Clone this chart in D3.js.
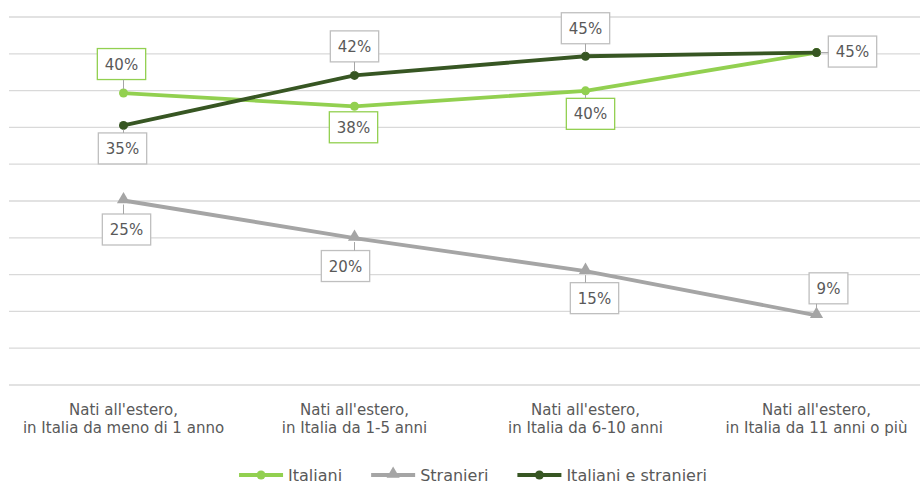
<!DOCTYPE html>
<html>
<head>
<meta charset="utf-8">
<script src="https://d3js.org/d3.v7.min.js"></script>
<style>
  body { margin: 0; background: #fff; }
  text { font-family: "DejaVu Sans", sans-serif; fill: #595959; }
</style>
</head>
<body>
<div id="viz"></div>
<script>
// data (percent)
const categories = [
  ["Nati all'estero,", "in Italia da meno di 1 anno"],
  ["Nati all'estero,", "in Italia da 1-5 anni"],
  ["Nati all'estero,", "in Italia da 6-10 anni"],
  ["Nati all'estero,", "in Italia da 11 anni o più"]
];
const seriesNames = ["Italiani", "Stranieri", "Italiani e stranieri"];
const italiani = [39.6, 37.8, 39.9, 45.1];
const stranieri = [25.0, 19.9, 15.4, 9.4];
const totale = [35.2, 42.0, 44.6, 45.1];
const yTicks = [0, 5, 10, 15, 20, 25, 30, 35, 40, 45, 50];

let width = 920,
    height = 486;

let svg = d3.select('#viz').append('svg')
    .attr('width', width)
    .attr('height', height);

let x = d3.scaleBand()
    .domain(d3.range(categories.length))
    .range([8, 932]);

let y = d3.scaleLinear()
    .domain([0, 50])
    .range([384.5, 16.5]);

let cx = i => x(i) + x.bandwidth() / 2;

// gridlines
let grid = svg.append('g')
    .attr('transform', 'translate(9,0)')
    .call(d3.axisLeft(y).tickValues(yTicks).tickSize(-911).tickFormat(''));
grid.select('.domain').remove();
grid.selectAll('.tick line').attr('stroke', '#d9d9d9').attr('stroke-width', 1.3);

// category labels
let cat = svg.append('g').selectAll('text')
    .data(categories)
    .enter().append('text')
    .attr('text-anchor', 'middle')
    .attr('font-size', 15);
cat.each(function(d, i) {
  d3.select(this).selectAll('tspan')
    .data(d).enter().append('tspan')
    .attr('x', cx(i))
    .attr('y', (t, j) => 415 + j * 18)
    .text(t => t);
});

// series setup; label offsets are layout only (dx, dy of box centre from point)
let series = [
  { name: seriesNames[0], values: italiani, color: '#92d050', border: '#92d050', marker: 'circle',
    offsets: [[-2, -29], [-1, 21], [5, 23], null] },
  { name: seriesNames[1], values: stranieri, color: '#a5a5a5', border: '#bfbfbf', marker: 'triangle',
    offsets: [[3, 29], [-9, 28], [9, 27], [12, -27]] },
  { name: seriesNames[2], values: totale, color: '#375623', border: '#bfbfbf', marker: 'circle',
    offsets: [[-1, 23], [0, -29], [0, -28], [36, -1]] }
];

let line = d3.line()
    .x((d, i) => cx(i))
    .y(d => y(d));

let triangle = d3.symbol().type(d3.symbolTriangle).size(75);

function drawMarker(g, s, px, py) {
  if (s.marker === 'circle') {
    g.append('circle').attr('cx', px).attr('cy', py).attr('r', 4.5).attr('fill', s.color);
  } else {
    g.append('path').attr('d', triangle).attr('transform', `translate(${px},${py - 1})`).attr('fill', s.color);
  }
}

let lines = svg.append('g');
series.forEach(s => {
  lines.append('path')
    .datum(s.values)
    .attr('d', line)
    .attr('fill', 'none')
    .attr('stroke', s.color)
    .attr('stroke-width', 3.8)
    .attr('stroke-linejoin', 'round');
  s.values.forEach((v, i) => drawMarker(lines, s, cx(i), y(v)));
});

// data labels
let labels = svg.append('g');
series.forEach(s => {
  s.values.forEach((v, i) => {
    let off = s.offsets[i];
    if (!off) return;
    let txt = Math.round(v) + '%';
    let px = cx(i), py = y(v);
    let bx = px + off[0], by = py + off[1];
    let t = labels.append('text')
      .attr('x', bx).attr('y', by + 5.5)
      .attr('text-anchor', 'middle')
      .attr('font-size', 15)
      .text(txt);
    let w = t.node().getComputedTextLength() + 15, h = 31;
    // leader line from box edge to the point
    let ex = Math.max(bx - w / 2, Math.min(px, bx + w / 2));
    let ey = Math.max(by - h / 2, Math.min(py, by + h / 2));
    let dist = Math.hypot(px - ex, py - ey);
    if (dist > 7) {
      let k = (dist - 4) / dist;
      labels.append('line')
        .attr('x1', ex).attr('y1', ey)
        .attr('x2', ex + (px - ex) * k).attr('y2', ey + (py - ey) * k)
        .attr('stroke', '#a6a6a6').attr('stroke-width', 1);
    }
    labels.insert('rect', 'text')
      .attr('x', bx - w / 2).attr('y', by - h / 2)
      .attr('width', w).attr('height', h)
      .attr('fill', '#fff')
      .attr('stroke', s.border)
      .attr('stroke-width', 1.3);
    t.raise();
  });
});

// legend
let legend = svg.append('g');
let lx = 0;
series.forEach(s => {
  let item = legend.append('g').attr('transform', `translate(${lx},0)`);
  item.append('line')
    .attr('x1', 0).attr('x2', 44).attr('y1', 0).attr('y2', 0)
    .attr('stroke', s.color).attr('stroke-width', 3.8);
  drawMarker(item, s, 22, 0);
  let t = item.append('text')
    .attr('x', 49).attr('y', 5.5)
    .attr('font-size', 16)
    .text(s.name);
  lx += 49 + t.node().getComputedTextLength() + 29;
});
let lw = lx - 29;
legend.attr('transform', `translate(${473 - lw / 2},475)`);
</script>
</body>
</html>
